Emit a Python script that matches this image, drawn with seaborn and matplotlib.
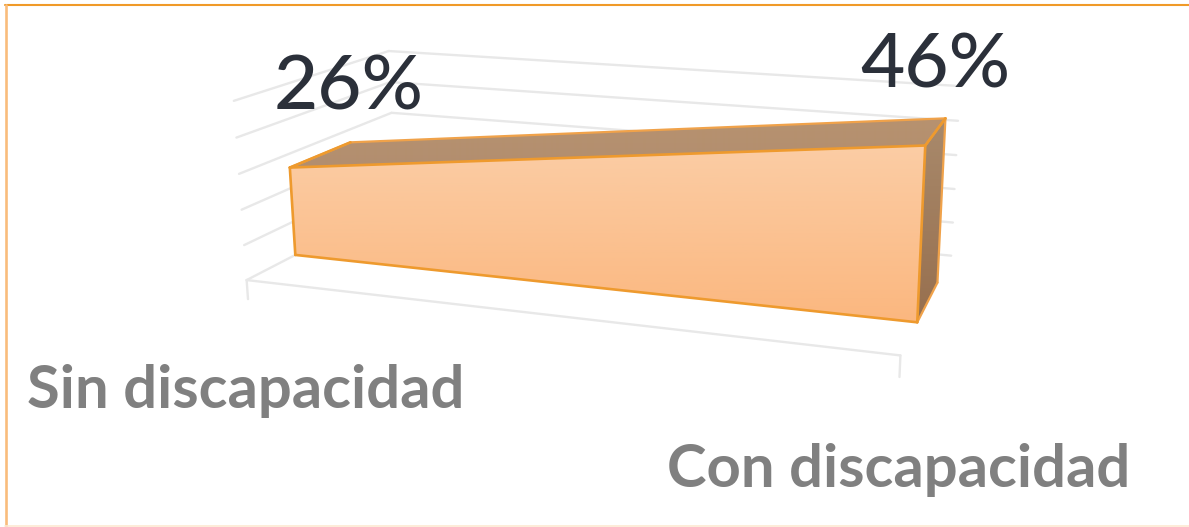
import numpy as np
import pandas as pd
import seaborn as sns
import matplotlib.pyplot as plt
from matplotlib.colors import to_rgb
from matplotlib.patches import Polygon

categories = ['Sin discapacidad', 'Con discapacidad']
values = [0.26, 0.46]
value_ticks = [0, 0.1, 0.2, 0.3, 0.4, 0.5]

W, H = 1189, 527
Z_FRONT, Z_BACK = 0.29, 0.69   # depth of the area inside the box
TICK_DROP = -0.055

# camera of the 3d box: (category, value, depth) -> pixel corners
box_3d = [(0, 0, 0), (1, 0, 0), (0, .5, 0), (0, 0, 1), (1, 0, 1), (0, .5, 1), (1, .5, 1),
          (0, .26, Z_FRONT), (1, .46, Z_FRONT), (1, .46, Z_BACK), (0, .26, Z_BACK)]
box_px = [(246, 280), (899, 355), (233, 102), (395, 204), (952, 256), (388, 51), (957, 86),
          (291, 167), (926, 146), (948, 118), (352, 141)]

rows, rhs = [], []
for (a, b, c), (u, v) in zip(box_3d, box_px):
    rows.append([a, b, c, 1, 0, 0, 0, 0, -u * a, -u * b, -u * c])
    rows.append([0, 0, 0, 0, a, b, c, 1, -v * a, -v * b, -v * c])
    rhs += [u, v]
cam = np.linalg.lstsq(np.array(rows, float), np.array(rhs, float), rcond=None)[0]
cam = np.append(cam, 1).reshape(3, 4)


def project(a, b, c):
    p = cam @ np.array([a, b, c, 1.0])
    return p[0] / p[2], p[1] / p[2]


def to_frame(segments):
    out = []
    for i, seg in enumerate(segments):
        for a, b, c in seg:
            px, py = project(a, b, c)
            out.append({'edge': i, 'px': px, 'py': py})
    return pd.DataFrame(out)


sns.set_theme(style='white')
plt.rcParams['font.family'] = ['Lato', 'DejaVu Sans']

fig = plt.figure(figsize=(W / 100, H / 100), dpi=100)
ax = fig.add_axes([0, 0, 1, 1])

# walls and floor
grid = []
for t in value_ticks:
    grid.append([(0, t, 0), (0, t, 1)])
    grid.append([(0, t, 1), (1.0, t, 1)])
grid.append([(0, 0, 0), (1, 0, 0)])
grid.append([(0, TICK_DROP, 0), (0, 0, 0)])
grid.append([(1, TICK_DROP, 0), (1, 0, 0)])
sns.lineplot(data=to_frame(grid), x='px', y='py', units='edge', estimator=None, sort=False,
             color='#E8E8E8', lw=1.7, ax=ax, legend=False, zorder=1)

y0, y1 = values
orange = '#EE9A2E'
front = [(0, 0, Z_FRONT), (1, 0, Z_FRONT), (1, y1, Z_FRONT), (0, y0, Z_FRONT)]
top = [(0, y0, Z_FRONT), (1, y1, Z_FRONT), (1, y1, Z_BACK), (0, y0, Z_BACK)]
side = [(1, 0, Z_FRONT), (1, y1, Z_FRONT), (1, y1, Z_BACK), (1, 0, Z_BACK)]


def shade(face, c_top, c_bottom, z):
    # vertical gradient clipped to the projected face
    pts = [project(*p) for p in face]
    xs, ys = zip(*pts)
    box = (min(xs), max(xs), max(ys), min(ys))
    ramp = np.linspace(0, 1, 200)[:, None, None]
    col = np.array(to_rgb(c_top)) * (1 - ramp) + np.array(to_rgb(c_bottom)) * ramp
    im = ax.imshow(col, extent=box, aspect='auto', zorder=z, interpolation='bilinear')
    patch = Polygon(pts, closed=True, transform=ax.transData, facecolor='none', edgecolor='none')
    ax.add_patch(patch)
    im.set_clip_path(patch)


shade(side, '#A98A6C', '#976F4E', 2)
shade(top, '#B7926F', '#B28E6F', 2)
shade(front, '#FBCDA5', '#FBB77F', 3)

edges = [[side[1], side[2]], [side[2], side[3]], [side[3], side[0]],
         [top[0], top[3]], [top[3], top[2]]]
sns.lineplot(data=to_frame(edges), x='px', y='py', units='edge', estimator=None, sort=False,
             color='#F0A24A', lw=1.6, ax=ax, legend=False, zorder=4)
edges = [front[i:i + 2] for i in range(3)] + [[front[3], front[0]]] + [[side[1], side[2]], [top[0], top[3]]]
sns.lineplot(data=to_frame(edges), x='px', y='py', units='edge', estimator=None, sort=False,
             color=orange, lw=1.9, ax=ax, legend=False, zorder=5)

# data labels and category labels
ax.text(349, 110, f'{values[0]:.0%}', fontsize=55, color='#2B303A', ha='center', va='baseline', fontweight='medium', zorder=6)
ax.text(935, 88, f'{values[1]:.0%}', fontsize=55, color='#2B303A', ha='center', va='baseline', fontweight='medium', zorder=6)
ax.text(246, 408, categories[0], fontsize=43, fontweight='bold', color='#808080', ha='center', va='baseline', zorder=6)
ax.text(899, 487, categories[1], fontsize=43, fontweight='bold', color='#808080', ha='center', va='baseline', zorder=6)

# chart frame
ax.plot([5, 1189], [5, 5], color='#F09A28', lw=1.5, zorder=7)
ax.plot([5.5, 5.5], [5, 527], color='#F9BC7C', lw=1.9, zorder=7)
ax.plot([5, 1189], [526, 526], color='#FDE9D2', lw=1.2, zorder=7)

ax.set_xlim(0, W)
ax.set_ylim(H, 0)
ax.axis('off')
fig.savefig('out.png', dpi=100)
